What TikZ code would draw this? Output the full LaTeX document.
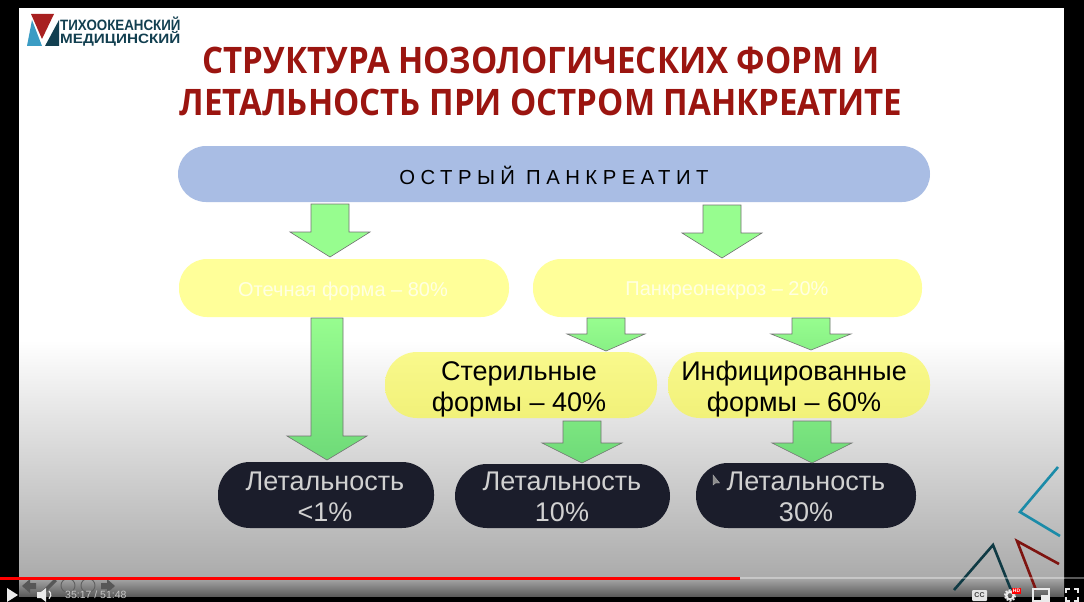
\documentclass[tikz,border=0pt]{standalone}
\usepackage{fontspec}
\setmainfont{Liberation Sans}
\newfontfamily\spaced[LetterSpace=27]{Liberation Sans}
\newfontfamily\titlefont{Open Sans}
\definecolor{slidetitle}{HTML}{9B1510}
\definecolor{bluebox}{HTML}{A9BDE4}
\definecolor{yellowbox}{HTML}{FFFF99}
\definecolor{yellowtop}{HTML}{F9F98C}
\definecolor{yellowbot}{HTML}{F1F179}
\definecolor{darkbox}{HTML}{1B1D2B}
\definecolor{arrowfill}{HTML}{97FD8F}
\definecolor{arrowmid}{HTML}{88F085}
\definecolor{arrowlow}{HTML}{7CE680}
\definecolor{arrowbot}{HTML}{6EDA78}
\definecolor{logoblue}{HTML}{3B9CC4}
\definecolor{logored}{HTML}{A82020}
\definecolor{logodark}{HTML}{123F50}
\definecolor{cornerblue}{HTML}{1B8BA8}
\definecolor{cornerred}{HTML}{7E1410}
\definecolor{cornerdark}{HTML}{0F3A44}
\tikzset{
  x=1pt,y=-1pt,
  yellowtext/.style={font=\fontsize{27}{31}\selectfont,align=center,text=black,inner sep=0pt},
  darktext/.style={font=\fontsize{27}{31}\selectfont,align=center,text=black!18,inner sep=0pt},
  faint/.style={font=\fontsize{20}{24}\selectfont,text=white,opacity=.72,inner sep=0pt},
  blockarrow/.style={draw=black!55,line width=.6pt,line join=miter},
  title/.style={font=\titlefont\bfseries\fontsize{36.5}{42}\selectfont,text=slidetitle,xscale=.905,transform shape,inner sep=0pt},
  cornerline/.style={line width=2.6pt,line cap=butt,line join=miter},
  hud/.style={fill=black!66,draw=none},
  hudring/.style={draw=black!62,line width=.9pt,fill=none},
  ctlline/.style={draw=white!92!black,line width=1.5pt},
  ctl/.style={fill=white!92!black,draw=none},
  logotext/.style={font=\bfseries,text=logodark,anchor=west,inner sep=0pt,transform shape},
}
% \blockdown{top colour}{bottom colour}{cx}{top}{shaft half}{neck}{head half}{tip}
\newcommand{\blockdown}[8]{%
  \draw[blockarrow,top color=#1,bottom color=#2] (#3-#5,#4) -- (#3+#5,#4) -- (#3+#5,#6) -- (#3+#7,#6) -- (#3,#8) -- (#3-#7,#6) -- (#3-#5,#6) -- cycle;
}
\begin{document}
\begin{tikzpicture}
\useasboundingbox (0,0) rectangle (1084,602);
% screen
\fill[black] (0,0) rectangle (1084,602);
\fill[white] (19,8) rectangle (1064,340);
\shade[top color=white,bottom color=black!33] (19,340) rectangle (1064,578);
\shade[top color=black!34,bottom color=black!64] (19,578) rectangle (1064,596);

% logo
\fill[logored] (31,14) -- (54,14) -- (42,39) -- cycle;
\fill[logoblue] (27,46) -- (32,20) -- (42,46) -- cycle;
\fill[logodark] (45,46) -- (59,20) -- (59,46) -- cycle;
\node[logotext,xscale=.89] (logoa) at (60,23.5) {\fontsize{15}{15}\selectfont ТИХООКЕАНСКИЙ};
\node[logotext,xscale=1.13] (logob) at (60,38.5) {\fontsize{13.5}{13.5}\selectfont МЕДИЦИНСКИЙ};

% title
\node[title] (t1) at (541,60) {СТРУКТУРА НОЗОЛОГИЧЕСКИХ ФОРМ И};
\node[title] (t2) at (541,102) {ЛЕТАЛЬНОСТЬ ПРИ ОСТРОМ ПАНКРЕАТИТЕ};

% boxes
\fill[bluebox,rounded corners=28pt] (178,146) rectangle (930,202);
\node[font=\spaced\fontsize{20.3}{24}\selectfont,inner sep=0pt] (root) at (554,175) {ОСТРЫЙ ПАНКРЕАТИТ};

\fill[yellowbox,rounded corners=28pt] (179,259) rectangle (509,317);
\node[faint] (edema) at (343,291) {Отечная форма – 80\%};
\fill[yellowbox,rounded corners=28pt] (533,259) rectangle (922,317);
\node[faint] (necro) at (727,291) {Панкреонекроз – 20\%};

\shade[top color=yellowtop,bottom color=yellowbot,rounded corners=32pt] (385,352) rectangle (657,418);
\node[yellowtext] (ster) at (519,389.5) {Стерильные\\формы – 40\%};
\shade[top color=yellowtop,bottom color=yellowbot,rounded corners=32pt] (668,352) rectangle (930,418);
\node[yellowtext] (inf) at (794,389.5) {Инфицированные\\формы – 60\%};

\fill[darkbox,rounded corners=32pt] (218,462) rectangle (434,528);
\node[darktext] (l1) at (325,497) {Летальность\\<1\%};
\fill[darkbox,rounded corners=32pt] (455,464) rectangle (670,528);
\node[darktext] (l2) at (562,497) {Летальность\\10\%};
\fill[darkbox,rounded corners=32pt] (696,463) rectangle (916,528);
\node[darktext] (l3) at (806,497) {Летальность\\30\%};

% arrows
\blockdown{arrowfill}{arrowfill}{330}{204}{19}{232}{40}{257}
\blockdown{arrowfill}{arrowfill}{722}{205}{19}{233}{40}{258}
\blockdown{arrowfill}{arrowbot}{327}{318}{16}{436}{40}{460}
\blockdown{arrowfill}{arrowmid}{606}{318}{19}{334}{39}{351}
\blockdown{arrowfill}{arrowmid}{811}{318}{19}{334}{40}{350}
\blockdown{arrowlow}{arrowbot}{582}{421}{19}{443}{40}{463}
\blockdown{arrowlow}{arrowbot}{812}{421}{19}{443}{40}{463}

% mouse pointer
\draw[fill=black!45,draw=white!70!black,line width=.4pt] (713,475) -- (713,485) -- (715.5,483) -- (719.5,483) -- cycle;

% corner marks
\draw[cornerline,cornerblue] (1058,467) -- (1020,512) -- (1060,536);
\draw[cornerline,cornerred] (1059,564) -- (1017,541) -- (1036,590);
\draw[cornerline,cornerdark] (954,590) -- (993,545) -- (1011,590);

% slide nav icons
\fill[hud] (22,586) -- (30,579) -- (30,583) -- (36,583) -- (36,589) -- (30,589) -- (30,593) -- cycle;
\fill[hud] (42,591) -- (54,579) -- (57,581) -- (45,593) -- cycle;
\draw[hudring] (68,585.5) circle (7);
\draw[hudring] (88,585.5) circle (7);
\fill[hud] (115,586) -- (107,579) -- (107,583) -- (101,583) -- (101,589) -- (107,589) -- (107,593) -- cycle;

% progress bar
\fill[white,opacity=.35] (740,577) rectangle (1084,579);
\fill[red] (0,576.8) rectangle (740,579.5);

% player controls
\fill[ctl] (7,588) -- (18,595) -- (7,602) -- cycle;
\fill[ctl] (37,592) -- (41,592) -- (46,588) -- (46,602) -- (41,598) -- (37,598) -- cycle;
\draw[ctlline,line width=1.2pt] (49,591) arc (-50:50:5);
\node[font=\fontsize{10.5}{12}\selectfont,text=black!22,anchor=west,inner sep=0pt] (time) at (65,594.5) {35:17 / 51:48};
\fill[white!90!black,rounded corners=1pt] (972,590) rectangle (987,601);
\node[font=\bfseries\fontsize{7}{8}\selectfont,text=black!75,inner sep=0pt] (cc) at (979.5,595.5) {CC};
\draw[white!92!black,line width=2pt,dash pattern=on 2pt off 1.2pt] (1010,595.5) circle (5.2);
\draw[white!92!black,line width=2pt] (1010,595.5) circle (3.6);
\fill[red] (1012,588) rectangle (1021,594);
\node[font=\bfseries\fontsize{5}{6}\selectfont,text=white,inner sep=0pt] (hd) at (1016.5,591) {HD};
\draw[ctlline,line width=1.2pt] (1033,589) rectangle (1049,601);
\fill[white!92!black] (1041,595) rectangle (1048,600);
\draw[ctlline] (1066,593) -- (1066,589) -- (1070,589);
\draw[ctlline] (1074,589) -- (1078,589) -- (1078,593);
\draw[ctlline] (1066,597) -- (1066,601) -- (1070,601);
\draw[ctlline] (1074,601) -- (1078,601) -- (1078,597);
\end{tikzpicture}
\end{document}
